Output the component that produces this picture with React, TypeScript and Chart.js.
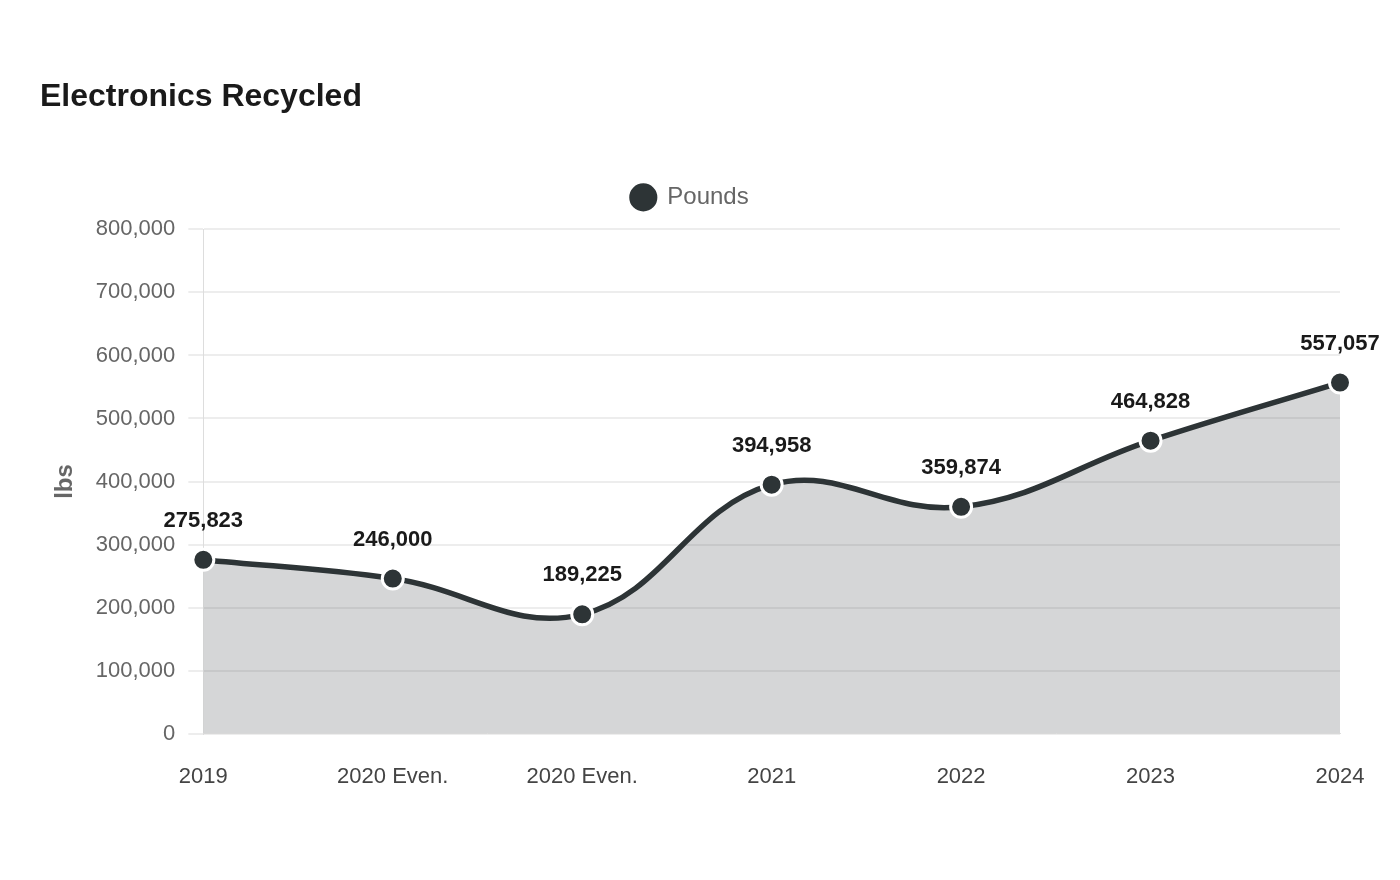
import React, { useEffect, useRef } from "react";
import { Chart, registerables } from "chart.js";

Chart.register(...registerables);

const categories = ["2019", "2020 Even.", "2020 Even.", "2021", "2022", "2023", "2024"];
const pounds = [275823, 246000, 189225, 394958, 359874, 464828, 557057];
const seriesName = "Pounds";
const titleText = "Electronics Recycled";
const yAxisTitle = "lbs";

const FONT = "'Liberation Sans', Arial, sans-serif";
const DARK = "#2d3436";

const dataLabelPlugin = {
  id: "dataLabels",
  afterDatasetsDraw(chart: any) {
    const ctx = chart.ctx;
    const meta = chart.getDatasetMeta(0);
    ctx.save();
    ctx.font = `bold 22px ${FONT}`;
    ctx.fillStyle = "#1a1a1a";
    ctx.textAlign = "center";
    ctx.textBaseline = "middle";
    meta.data.forEach((pt: any, i: number) => {
      const v = chart.data.datasets[0].data[i] as number;
      ctx.fillText(v.toLocaleString("en-US"), pt.x, pt.y - 39);
    });
    ctx.restore();
  },
};

const legendGapPlugin = {
  id: "legendGap",
  beforeLayout(chart: any) {
    const lg = chart.legend;
    if (lg && !lg._gapPatched) {
      const orig = lg.fit;
      lg.fit = function (this: any) {
        orig.call(this);
        this.height += 10;
      };
      lg._gapPatched = true;
    }
  },
};

export default function App() {
  const ref = useRef<HTMLCanvasElement | null>(null);
  useEffect(() => {
    if (!ref.current) return;
    const chart = new Chart(ref.current, {
      type: "line",
      data: {
        labels: categories,
        datasets: [
          {
            label: seriesName,
            data: pounds,
            borderColor: DARK,
            backgroundColor: "rgba(45,52,54,0.2)",
            borderWidth: 5.5,
            fill: true,
            tension: 0.4,
            pointRadius: 10.5,
            pointHoverRadius: 10.5,
            pointBackgroundColor: DARK,
            pointBorderColor: "#ffffff",
            pointBorderWidth: 3,
          },
        ],
      },
      options: {
        animation: false,
        responsive: false,
        maintainAspectRatio: false,
        layout: { padding: { left: 32, right: 52, top: 0, bottom: 60 } },
        plugins: {
          title: {
            display: true,
            text: titleText,
            align: "start",
            color: "#1a1a1a",
            font: { family: FONT, size: 32, weight: "bold" },
            padding: { top: 70, bottom: 50 },
          },
          legend: {
            display: true,
            labels: {
              usePointStyle: true,
              boxHeight: 22,
              padding: 19,
              color: "#666666",
              font: { family: FONT, size: 24 },
            },
          },
          tooltip: { enabled: false },
        },
        scales: {
          x: {
            offset: false,
            grid: { display: false },
            border: { display: true, color: "#dddddd" },
            ticks: { color: "#444444", font: { family: FONT, size: 22 }, padding: 22, maxRotation: 0, autoSkip: false },
          },
          y: {
            min: 0,
            max: 800000,
            ticks: {
              stepSize: 100000,
              color: "#666666",
              padding: 13,
              font: { family: FONT, size: 22 },
              callback: (v: any) => Number(v).toLocaleString("en-US"),
            },
            grid: { color: "rgba(0,0,0,0.07)", lineWidth: 2, tickLength: 15 },
            border: { display: true, color: "#dddddd" },
            title: {
              display: true,
              text: yAxisTitle,
              color: "#666666",
              font: { family: FONT, size: 24, weight: "bold" },
              padding: { top: 11, bottom: 3 },
            },
          },
        },
      },
      plugins: [dataLabelPlugin, legendGapPlugin],
    });
    return () => chart.destroy();
  }, []);
  return (
    <div style={{ width: 1384, height: 864 }}>
      <canvas ref={ref} width={1384} height={864} style={{ width: 1384, height: 864, display: "block" }} />
    </div>
  );
}
